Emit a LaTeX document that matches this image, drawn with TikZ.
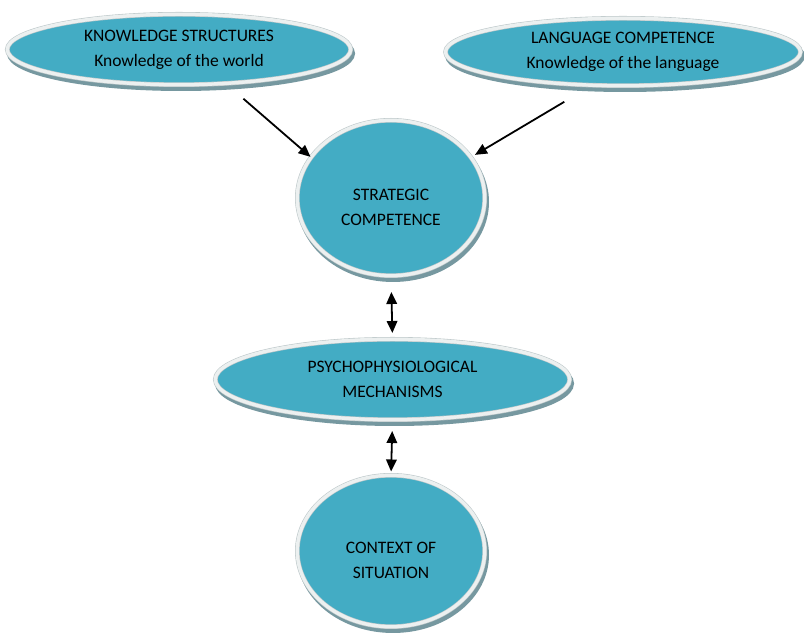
\documentclass[tikz,border=0pt]{standalone}
\usepackage{fontspec}
\setmainfont{Carlito}
\usetikzlibrary{shapes.geometric,arrows.meta}
\definecolor{teal1}{RGB}{67,172,196}
\definecolor{rim}{RGB}{236,240,240}
\definecolor{rimedge}{RGB}{190,200,202}
\definecolor{shadowc}{RGB}{118,152,160}
\begin{document}
\begin{tikzpicture}[x=1pt,y=1pt,
  >={Triangle[length=12pt,width=10.5pt]},
  bub/.style={ellipse, inner sep=0pt, fill=teal1, align=center,
    font=\fontsize{17.5}{25}\selectfont,
    draw=rimedge, line width=0.6pt, double=rim, double distance=3.4pt,
    preaction={fill=shadowc, draw=shadowc, line width=4.6pt,
      transform canvas={shift={(2pt,-4pt)}}}},
  txt/.style={align=center, inner sep=0pt, font=\fontsize{17.5}{25}\selectfont},
  arr/.style={line width=1.8pt, ->},
  darr/.style={line width=1.8pt, <->}]
\path[use as bounding box] (0,0) rectangle (804,634);
\node[bub, minimum width=343.4pt, minimum height=70.4pt] (k) at (179,584.5)
  {KNOWLEDGE STRUCTURES\\Knowledge of the world};
\node[bub, minimum width=355pt, minimum height=67.4pt] (l) at (623,582)
  {LANGUAGE COMPETENCE\\Knowledge of the language};
\node[bub, minimum width=187.4pt, minimum height=155.4pt] (s) at (391,436) {};
\node[txt] (st) at ([yshift=-9pt]s.center) {STRATEGIC\\COMPETENCE};
\node[bub, minimum width=354.4pt, minimum height=80.4pt] (p) at (392.5,254.5)
  {PSYCHOPHYSIOLOGICAL\\MECHANISMS};
\node[bub, minimum width=187.4pt, minimum height=151.4pt] (c) at (391,83) {};
\node[txt] (ct) at ([yshift=-9pt]c.center) {CONTEXT OF\\SITUATION};
\draw[arr, shorten <=23pt, shorten >=0.5pt] (k.-36) -- (s.153.7);
\draw[arr, shorten <=32pt, shorten >=4.5pt] (l.227) -- (s.27);
\draw[darr, shorten <=16pt, shorten >=6pt] (s.south) -- (p.north);
\draw[darr, shorten <=11pt, shorten >=3.5pt] (p.south) -- (c.north);
\end{tikzpicture}
\end{document}
